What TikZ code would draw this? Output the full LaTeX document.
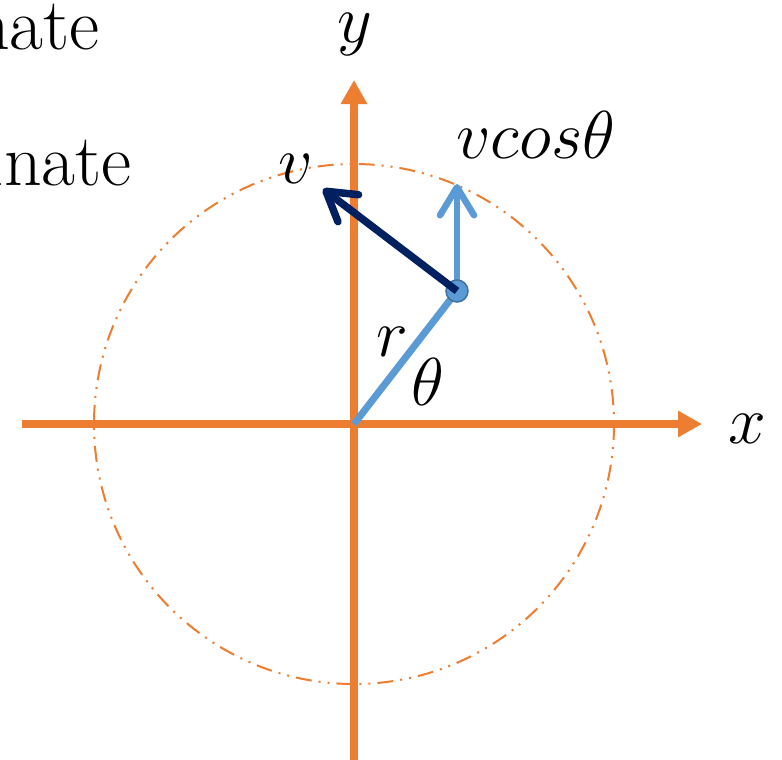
\RequirePackage{fix-cm}
\documentclass[tikz,border=0pt]{standalone}
\usetikzlibrary{arrows.meta}
\definecolor{axisorange}{HTML}{ED7D31}
\definecolor{vecblue}{HTML}{5B9BD5}
\definecolor{dotedge}{HTML}{41719C}
\definecolor{navyblue}{HTML}{002060}
\begin{document}
\begin{tikzpicture}[x=1bp,y=-1bp,
  axisline/.style={draw=axisorange,line width=8bp,-{Triangle[length=24bp,width=25bp]}},
  circline/.style={draw=axisorange,line width=2bp,dash pattern=on 16bp off 7bp on 2bp off 7bp on 2bp off 7bp},
  vecarrow/.style={line width=6.5bp,-{Straight Barb[length=28bp,width=34bp,round]}},
  lbl/.style={inner sep=0pt,anchor=base,font=\fontsize{68}{68}\selectfont},
  bodytext/.style={inner sep=0pt,anchor=base east,font=\rmfamily\fontsize{74}{74}\selectfont}]
\useasboundingbox (0,0) rectangle (782,760);
\clip (0,0) rectangle (782,760);
\fill[white] (0,0) rectangle (782,760);
% coordinates
\coordinate (O) at (354,424);
\coordinate (ybot) at (354,760);
\coordinate (ytop) at (354,80);
\coordinate (xleft) at (22,424);
\coordinate (xright) at (702,424);
\coordinate (P) at (457,291);
\coordinate (vtip) at (457,184);
\coordinate (ntip) at (323,189);
% text at top left
\node[bodytext] (t1) at (100,50) {nate};
\node[bodytext] (t2) at (132,185) {inate};
% axes
\draw[axisline] (ybot) -- (ytop);
\draw[axisline] (xleft) -- (xright);
% circle
\draw[circline] (O) circle[radius=260];
% radius
\draw[vecblue,line width=7bp] (O) -- (P);
% v cos theta
\draw[vecblue,vecarrow] (P) -- (vtip);
% point
\node[circle,fill=vecblue,draw=dotedge,line width=1.5bp,minimum size=22bp,inner sep=0pt] (dot) at (P) {};
% v
\draw[navyblue,vecarrow,line width=7.5bp] (dot.center) -- (ntip);
% labels
\node[lbl] (ylab) at (355,43) {$y$};
\node[lbl] (xlab) at (747,443) {$x$};
\node[lbl] (vlab) at (296,183) {$v$};
\node[lbl] (vclab) at (536,158) {$vcos\theta$};
\node[lbl] (rlab) at (392,356) {$r$};
\node[lbl] (thlab) at (428,405) {$\theta$};
\end{tikzpicture}
\end{document}
